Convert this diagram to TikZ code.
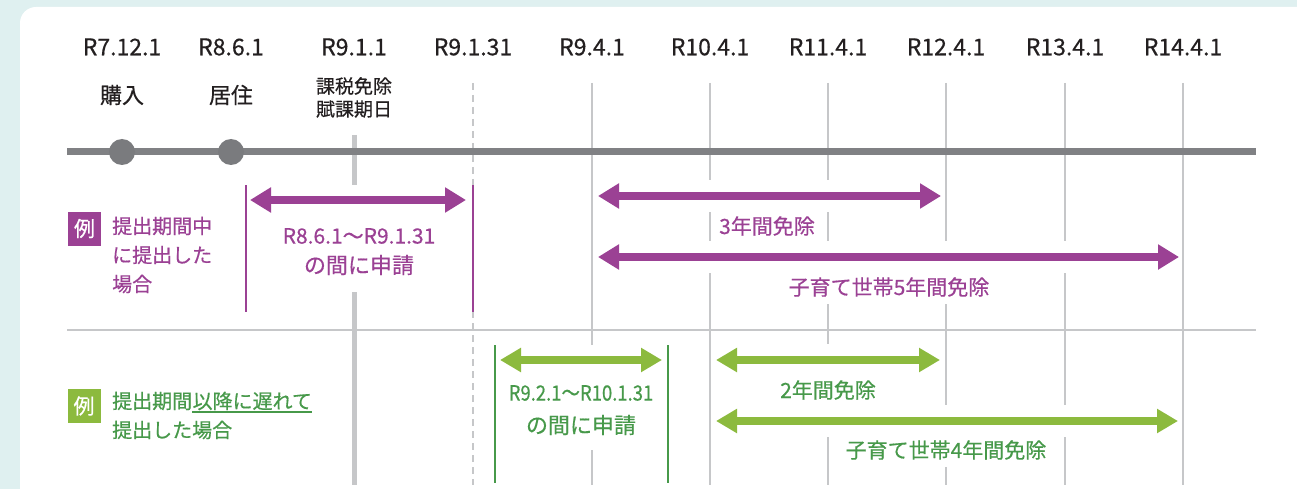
\documentclass[tikz,border=0pt]{standalone}
\usepackage{fontspec}
\setmainfont{Noto Sans CJK JP}[FakeBold=0.5]
\usetikzlibrary{arrows.meta}
\definecolor{bgteal}{HTML}{DFF0F0}
\definecolor{tline}{HTML}{808184}
\definecolor{dotgray}{HTML}{7A7B7E}
\definecolor{tickc}{HTML}{C6C7C9}
\definecolor{purp}{HTML}{9B4194}
\definecolor{lgreen}{HTML}{8CBA3E}
\definecolor{dgreen}{HTML}{47994A}
\definecolor{txt}{HTML}{231F20}
\newcommand{\fs}[1]{\fontsize{#1}{#1}\selectfont}
\tikzset{
  datelbl/.style={font=\fs{23}, text=txt, inner sep=0pt},
  evtlbl/.style={font=\fs{22}, text=txt, inner sep=0pt},
  smlbl/.style={font=\fs{19}, text=txt, inner sep=0pt},
  tickln/.style={tickc, line width=2.2pt},
  bigtick/.style={tickc, line width=5pt},
  dashtick/.style={tickc, line width=2.2pt, dash pattern=on 7pt off 5pt},
  pdesc/.style={font=\fs{20}, text=purp, inner sep=0pt, anchor=west},
  gdesc/.style={font=\fs{20}, text=dgreen, inner sep=0pt, anchor=west},
  badge/.style={font=\fs{21}, text=white, inner sep=0pt, minimum width=33pt, minimum height=34pt},
  parr/.style={purp, line width=8pt, {Triangle[length=21pt,width=24pt]}-{Triangle[length=21pt,width=24pt]}},
  garr/.style={lgreen, line width=8pt, {Triangle[length=21pt,width=23pt]}-{Triangle[length=21pt,width=23pt]}},
  halo/.style={white, line width=32pt},
  plbl/.style={font=\fs{21}, text=purp, fill=white, inner xsep=3pt, inner ysep=7pt},
  glbl/.style={font=\fs{21}, text=dgreen, fill=white, inner xsep=3pt, inner ysep=7pt},
  pbar/.style={purp, line width=2.5pt},
  gbar/.style={dgreen, line width=2.5pt},
}
\begin{document}
\begin{tikzpicture}[x=1pt,y=-1pt]
\useasboundingbox (0,0) rectangle (1297,489);
\fill[bgteal] (0,0) rectangle (1297,489);
\begin{scope}
\clip (0,0) rectangle (1297,489);
\fill[white, rounded corners=16pt] (20,7) rectangle (1330,530);
\end{scope}

% date labels
\node[datelbl] (d1) at (122,47) {R7.12.1};
\node[datelbl] (d2) at (231,47) {R8.6.1};
\node[datelbl] (d3) at (354,47) {R9.1.1};
\node[datelbl] (d4) at (473,47) {R9.1.31};
\node[datelbl] (d5) at (592,47) {R9.4.1};
\node[datelbl] (d6) at (710,47) {R10.4.1};
\node[datelbl] (d7) at (828,47) {R11.4.1};
\node[datelbl] (d8) at (946,47) {R12.4.1};
\node[datelbl] (d9) at (1065,47) {R13.4.1};
\node[datelbl] (d10) at (1183,47) {R14.4.1};

\node[evtlbl] (e1) at (122,95) {購入};
\node[evtlbl] (e2) at (231,95) {居住};
\node[smlbl] (e3a) at (354,86) {課税免除};
\node[smlbl] (e3b) at (354,109) {賦課期日};

% tick lines
\coordinate (t3a) at (354,135); \coordinate (t3b) at (354,485);
\coordinate (t4a) at (473,83);  \coordinate (t4b) at (473,485);
\foreach \n/\x in {5/592,6/710,7/828,8/946,9/1065,10/1183}{
  \coordinate (t\n a) at (\x,83); \coordinate (t\n b) at (\x,485);
  \draw[tickln] (t\n a) -- (t\n b);
}
\draw[bigtick] (t3a) -- (t3b);
\draw[dashtick] (t4a) -- (t4b);

% separator
\coordinate (s1) at (67,330); \coordinate (s2) at (1256,330);
\draw[tickc, line width=2.5pt] (s1) -- (s2);

% timeline
\coordinate (l1) at (67,152); \coordinate (l2) at (1256,152);
\draw[tline, line width=7pt] (l1) -- (l2);
\fill[dotgray] (122,152) circle (13pt);
\fill[dotgray] (231,152) circle (13pt);

% ---- row 1 (purple)
\node[badge, fill=purp] (pb) at (84.5,228.5) {例};
\node[pdesc] (p1) at (112,226) {提出期間中};
\node[pdesc] (p2) at (112,255) {に提出した};
\node[pdesc] (p3) at (112,284) {場合};

\fill[white] (248,185) rectangle (471,292);
\coordinate (pl1) at (246,185); \coordinate (pl2) at (246,312);
\coordinate (pr1) at (473,185); \coordinate (pr2) at (473,312);
\draw[pbar] (pl1) -- (pl2);
\draw[pbar] (pr1) -- (pr2);
\coordinate (pa1) at (250,200); \coordinate (pa2) at (466,200);
\draw[parr] (pa1) -- (pa2);
\node[font=\fs{21}, text=purp, inner sep=0pt] (pt1) at (359,236) {R8.6.1〜R9.1.31};
\node[font=\fs{22}, text=purp, inner sep=0pt] (pt2) at (359,265) {の間に申請};

\coordinate (a1s) at (598,196); \coordinate (a1e) at (941,196);
\coordinate (a2s) at (598,257); \coordinate (a2e) at (1179,257);
\draw[halo] (a1s) -- (a1e);
\draw[halo] (a2s) -- (a2e);
\draw[parr] (a1s) -- (a1e);
\draw[parr] (a2s) -- (a2e);
\node[plbl] (a1l) at (767,226) {3年間免除};
\node[plbl] (a2l) at (889,287) {子育て世帯5年間免除};

% ---- row 2 (green)
\node[badge, fill=lgreen] (gb) at (84,406) {例};
\node[gdesc] (g1a) at (112,401) {提出期間};
\node[gdesc] (g1b) at (g1a.east) {以降に遅れて};
\coordinate (u1) at (g1b.west |- 0,412); \coordinate (u2) at (g1b.east |- 0,412);
\draw[dgreen, line width=2pt] (u1) -- (u2);
\node[gdesc] (g2) at (112,430) {提出した場合};

\fill[white] (497,345) rectangle (666,450);
\coordinate (gl1) at (495,345); \coordinate (gl2) at (495,483);
\coordinate (gr1) at (668,345); \coordinate (gr2) at (668,483);
\draw[gbar] (gl1) -- (gl2);
\draw[gbar] (gr1) -- (gr2);
\coordinate (ga1) at (500,360); \coordinate (ga2) at (662,360);
\draw[garr] (ga1) -- (ga2);
\node[font=\fs{21}, text=dgreen, inner sep=0pt] (gt1) at (581,393) {\scalebox{0.88}[1]{R9.2.1〜R10.1.31}};
\node[font=\fs{22}, text=dgreen, inner sep=0pt] (gt2) at (581,425) {の間に申請};

\coordinate (b1s) at (716,360); \coordinate (b1e) at (940,360);
\coordinate (b2s) at (716,421); \coordinate (b2e) at (1178,421);
\draw[halo] (b1s) -- (b1e);
\draw[halo] (b2s) -- (b2e);
\draw[garr] (b1s) -- (b1e);
\draw[garr] (b2s) -- (b2e);
\node[glbl] (b1l) at (828,390) {2年間免除};
\node[glbl] (b2l) at (946,450) {子育て世帯4年間免除};
\end{tikzpicture}
\end{document}
